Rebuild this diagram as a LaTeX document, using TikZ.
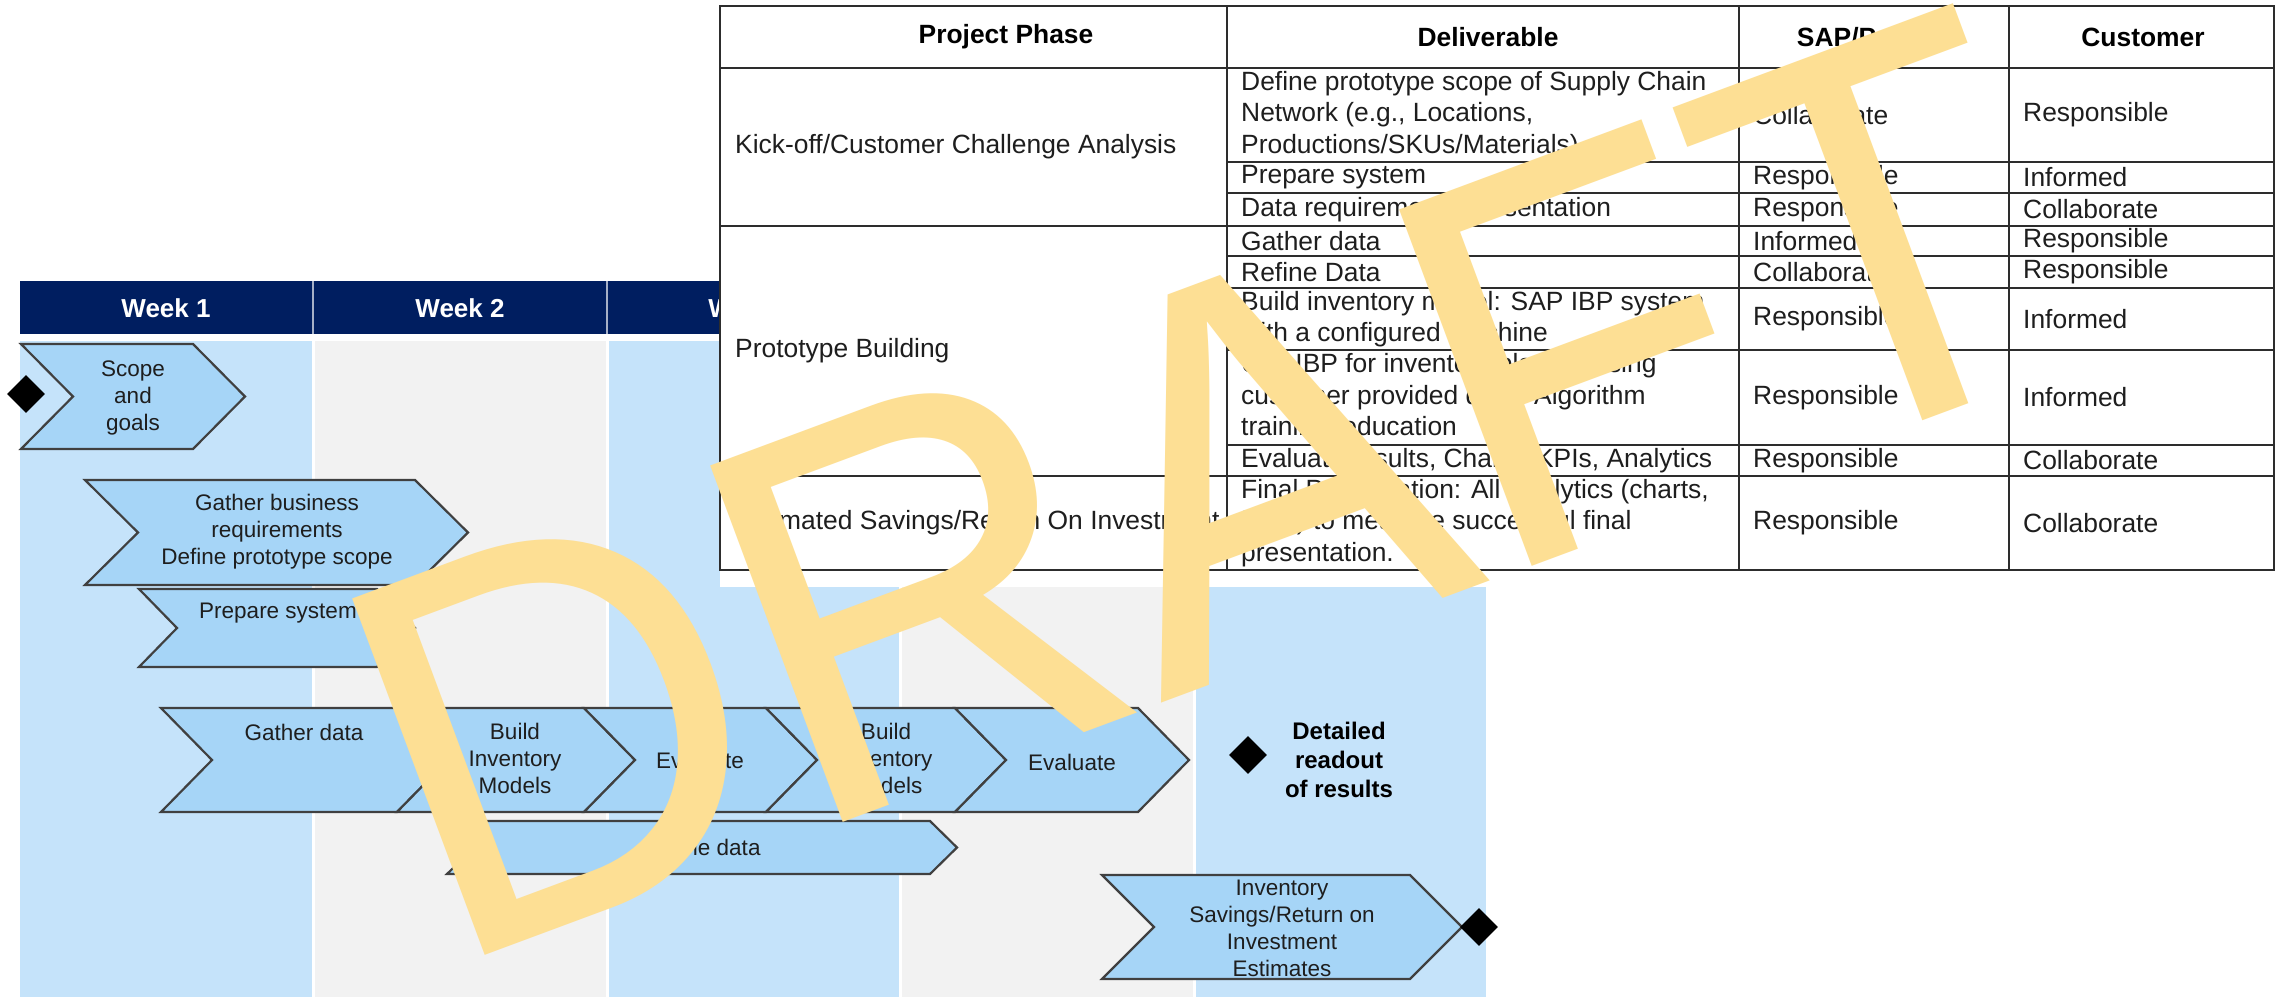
\documentclass[tikz,border=0pt]{standalone}
\usepackage{fontspec}
\setmainfont{Liberation Sans}
\usetikzlibrary{shapes.geometric}
\definecolor{navy}{RGB}{0,30,96}
\definecolor{colblue}{RGB}{197,227,250}
\definecolor{colgray}{RGB}{242,242,242}
\definecolor{chevfill}{RGB}{166,213,247}
\definecolor{chevline}{RGB}{64,64,64}
\definecolor{wmark}{RGB}{253,223,148}
\definecolor{tline}{RGB}{45,45,45}
\definecolor{ttext}{RGB}{30,30,30}
\newcommand\tbfont{\fontsize{26.4}{31.5}\selectfont}
\newcommand\tbbold{\fontsize{26.4}{31.5}\selectfont\bfseries}
\newcommand\chfont{\fontsize{22.5}{27}\selectfont}
\newcommand\wkfont{\fontsize{26}{30}\selectfont\bfseries}
\newcommand\rdfont{\fontsize{24}{29}\selectfont\bfseries}
\newcommand\wmfont{\fontsize{529}{600}\selectfont}
\newcommand\mkchev[5]{\draw[chev] (#1,#4) -- (#2,#4) -- ({#2+#3},{(#4+#5)/2}) -- (#2,#5) -- (#1,#5) -- ({#1+#3},{(#4+#5)/2}) -- cycle;}
\begin{document}
\begin{tikzpicture}[x=1pt,y=-1pt,
  chev/.style={draw=chevline, fill=chevfill, line width=2.2pt, line join=miter},
  ctext/.style={font=\chfont, align=center, inner sep=0pt, text=ttext},
  wk/.style={font=\wkfont, text=white, inner sep=0pt},
  hdr/.style={font=\tbbold, text=black, inner sep=0pt},
  cell/.style={font=\tbfont, text=ttext, inner sep=0pt, anchor=west, align=left},
  tl/.style={draw=tline, line width=2pt},
  mile/.style={diamond, fill=black, draw=none, minimum width=38pt, minimum height=38pt, inner sep=0pt}]
\useasboundingbox (0,0) rectangle (2282,997);
\clip (0,0) rectangle (2282,997);
\fill[white] (0,0) rectangle (2282,997);
% week columns
\fill[colblue] (20,341) rectangle (313,997);
\fill[colgray] (313,341) rectangle (607,997);
\fill[colblue] (607,341) rectangle (900,997);
\fill[colgray] (900,341) rectangle (1194,997);
\fill[colblue] (1194,341) rectangle (1486,997);
\foreach \x in {313,607,900,1194} \draw[white, line width=3pt] (\x,341) -- (\x,997);
% header
\fill[navy] (20,281) rectangle (1486,334);
\foreach \x in {313,607,900,1194} \draw[white!65!navy, line width=2pt] (\x,281) -- (\x,334);
\node[wk] (w1) at (166,308) {Week 1};
\node[wk] (w2) at (460,308) {Week 2};
\node[wk] (w3) at (753,308) {Week 3};
% chevrons
\mkchev{21}{193}{52}{344}{449}
\node[ctext] (t1) at (133,398) {Scope\\and\\goals};
\mkchev{85}{415}{53}{480}{585}
\node[ctext] (t2) at (277,532) {Gather business\\requirements\\Define prototype scope};
\mkchev{139}{377}{38}{589}{667}
\node[ctext] (t3) at (278,613) {Prepare system};
\mkchev{161}{397}{51}{708}{812}
\node[ctext] (t4) at (304,732) {Gather data};
\mkchev{397}{584}{51}{708}{812}
\node[ctext] (t5) at (515,758) {Build\\Inventory\\Models};
\mkchev{584}{766}{51}{708}{812}
\node[ctext] (t6) at (700,760) {Evaluate};
\mkchev{766}{955}{51}{708}{812}
\node[ctext] (t7) at (886,758) {Build\\Inventory\\Models};
\mkchev{955}{1138}{51}{708}{812}
\node[ctext] (t8) at (1072,762) {Evaluate};
\mkchev{447}{930}{27}{821}{874}
\node[ctext] (t9) at (703,847) {Refine data};
\mkchev{1102}{1410}{52}{875}{979}
\node[ctext] (t10) at (1282,928) {Inventory\\Savings/Return on\\Investment\\Estimates};
% milestones
\node[mile] (d1) at (26,394) {};
\node[mile] (d2) at (1248,755) {};
\node[mile] (d3) at (1479,927) {};
\node[font=\rdfont, align=center, inner sep=0pt] (rd) at (1339,760) {Detailed\\readout\\of results};
% table
\fill[white] (720,0) rectangle (2282,587);
\draw[tl] (720,6) rectangle (2274,570);
\draw[tl] (720,68) -- (2274,68);
\draw[tl] (720,226) -- (2274,226);
\draw[tl] (720,476) -- (2274,476);
\foreach \y in {162,193,256,288,350,445} \draw[tl] (1227,\y) -- (2274,\y);
\foreach \x in {1227,1739,2009} \draw[tl] (\x,6) -- (\x,570);
\node[hdr] (h1) at (1006,37) {Project Phase};
\node[hdr] (h2) at (1488,37) {Deliverable};
\node[hdr] (h3) at (1874,37) {SAP/Partner};
\node[hdr] (h4) at (2143,37) {Customer};
\node[cell] (p1) at (735,147) {Kick-off/Customer Challenge Analysis};
\node[cell] (p2) at (735,351) {Prototype Building};
\node[cell] (p3) at (735,523) {Estimated Savings/Return On Investment};
\node[cell] (r1) at (1241,115) {Define prototype scope of Supply Chain\\Network (e.g., Locations,\\Productions/SKUs/Materials)};
\node[cell] (r2) at (1241,177.5) {Prepare system};
\node[cell] (r3) at (1241,209.5) {Data requirements presentation};
\node[cell] (r4) at (1241,241) {Gather data};
\node[cell] (r5) at (1241,272) {Refine Data};
\node[cell] (r6) at (1241,319) {Build inventory model: SAP IBP system\\with a configured Machine};
\node[cell] (r7) at (1241,397.5) {Use IBP for inventory planner using\\customer provided data. Algorithm\\training, education};
\node[cell] (r8) at (1241,460.5) {Evaluate results, Charts, KPIs, Analytics};
\node[cell] (r9) at (1241,523) {Final Presentation: All Analytics (charts,\\KPIs) to measure successful final\\presentation.};
\node[cell] (s1) at (1753,115) {Collaborate};
\node[cell] (s2) at (1753,177.5) {Responsible};
\node[cell] (s3) at (1753,209.5) {Responsible};
\node[cell] (s4) at (1753,241) {Informed};
\node[cell] (s5) at (1753,272) {Collaborate};
\node[cell] (s6) at (1753,319) {Responsible};
\node[cell] (s7) at (1753,397.5) {Responsible};
\node[cell] (s8) at (1753,460.5) {Responsible};
\node[cell] (s9) at (1753,523) {Responsible};
\node[cell] (c1) at (2023,115) {Responsible};
\node[cell] (c2) at (2023,177.5) {Informed};
\node[cell] (c3) at (2023,209.5) {Collaborate};
\node[cell] (c4) at (2023,241) {Responsible};
\node[cell] (c5) at (2023,272) {Responsible};
\node[cell] (c6) at (2023,319) {Informed};
\node[cell] (c7) at (2023,397.5) {Informed};
\node[cell] (c8) at (2023,460.5) {Collaborate};
\node[cell] (c9) at (2023,523) {Collaborate};
% watermark
\node[rotate=20.4, anchor=base west, inner sep=0pt, font=\wmfont, text=wmark] (wm) at (444.7,970.3) {\scalebox{1}[1.045]{DRAFT}};
\end{tikzpicture}
\end{document}
